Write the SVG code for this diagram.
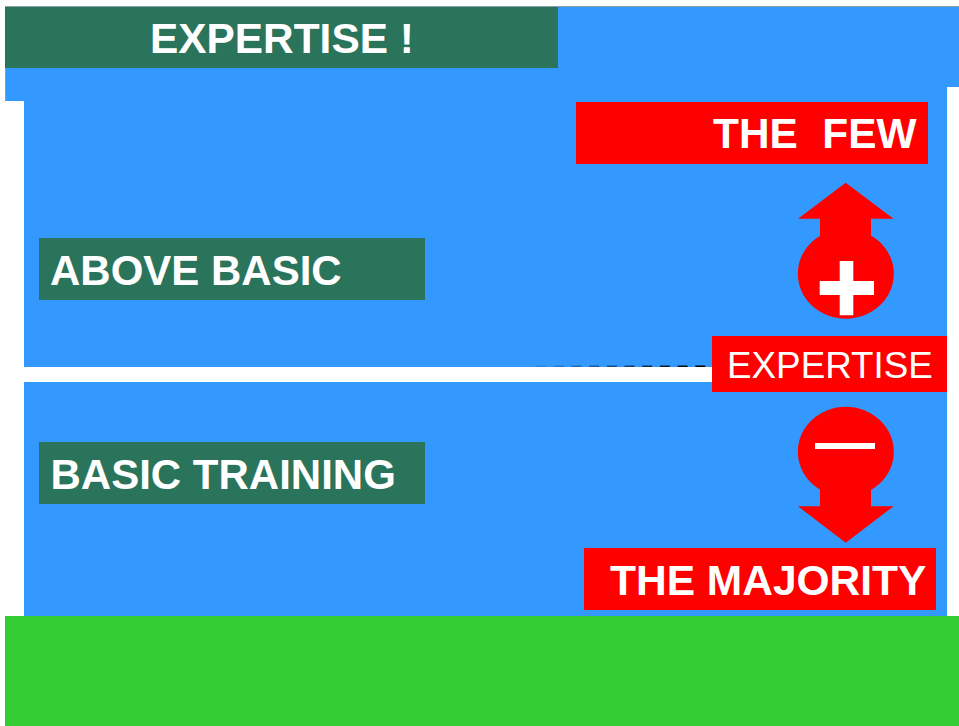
<svg xmlns="http://www.w3.org/2000/svg" width="959" height="726" viewBox="0 0 959 726">
<style>
.g{fill:#29745b}.r{fill:#f00}.w{fill:#fff}
text{font-family:"Liberation Sans",Arial,sans-serif;fill:#fff;font-weight:bold;font-size:42.4px;white-space:pre}
.side{font-size:42px}
</style>
<defs><linearGradient id="fade" gradientUnits="userSpaceOnUse" x1="522" y1="0" x2="700" y2="0"><stop offset="0" stop-color="#000" stop-opacity="0"/><stop offset="1" stop-color="#000" stop-opacity="1"/></linearGradient></defs>
<rect width="959" height="726" fill="#fff"/>
<g id="background">
<path d="M5 6H959V87H947V367H24V101H5Z" fill="#8c9ea8"/>
<path d="M6 7H959V87H947V367H24V101H6Z" fill="#3399ff"/>
<rect x="24" y="382" width="923" height="234" fill="#3399ff"/>
<rect x="5" y="616" width="954" height="110" fill="#33cc33"/>
</g>
<g id="connectors">
<path d="M536 366.200H707" fill="none" stroke="url(#fade)" stroke-width="1.600" stroke-dasharray="10 7.700"/>
</g>
<g id="title"><rect class="g" x="5" y="7" width="553" height="61"/><text x="150" y="53">EXPERTISE !</text></g>
<g id="above-basic"><rect class="g" x="39" y="238" width="386" height="62"/><text class="side" x="50" y="284.500">ABOVE BASIC</text></g>
<g id="basic-training"><rect class="g" x="39" y="442" width="386" height="62"/><text class="side" x="50.500" y="488.500">BASIC TRAINING</text></g>
<g id="the-few"><rect class="r" x="576" y="102" width="352" height="62"/><text x="713" y="148" style="word-spacing:.5px">THE  FEW</text></g>
<g id="the-majority"><rect class="r" x="584" y="548" width="352" height="62"/><text x="610" y="594.500" style="font-size:42.500px">THE MAJORITY</text></g>
<g id="expertise"><rect class="r" x="712" y="336" width="235" height="56"/><text x="727" y="378" style="font-weight:normal;font-size:36.800px">EXPERTISE</text></g>
<g id="arrow-up">
<path class="r" d="M845.700 182.700L893.500 218.700H871V240H820V218.700H798Z"/>
<ellipse class="r" cx="845.800" cy="273.700" rx="48" ry="45"/>
<path class="w" d="M839.700 261H853.300V281H874V295H853.300V315.300H839.700V295H819.700V281H839.700Z"/>
</g>
<g id="arrow-down">
<ellipse class="r" cx="845.800" cy="451.700" rx="48" ry="45"/>
<path class="r" d="M820 485H871V506.300H893.500L845.700 542.700L798 506.300H820Z"/>
<rect class="w" x="815" y="443" width="60" height="6"/>
</g>
</svg>
